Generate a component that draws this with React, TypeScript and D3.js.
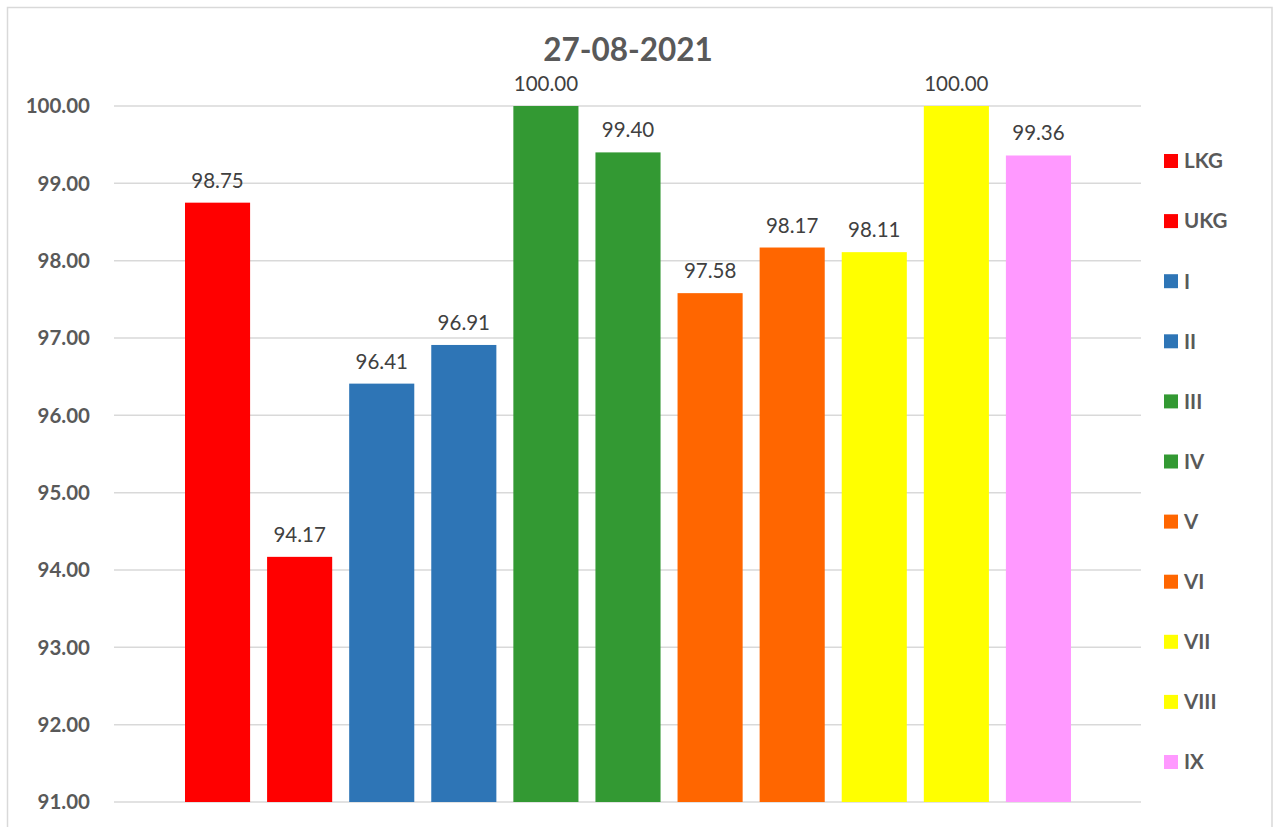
import React from "react";
import * as d3 from "d3";

const categories = ["LKG", "UKG", "I", "II", "III", "IV", "V", "VI", "VII", "VIII", "IX"];
const values = [98.75, 94.17, 96.41, 96.91, 100.0, 99.4, 97.58, 98.17, 98.11, 100.0, 99.36];
const colors = ["#FF0000", "#FF0000", "#2E75B6", "#2E75B6", "#339933", "#339933", "#FF6600", "#FF6600", "#FFFF00", "#FFFF00", "#FF99FF"];
const yTicks = [91, 92, 93, 94, 95, 96, 97, 98, 99, 100];
const title = "27-08-2021";

const W = 1273;
const H = 827;
const FONT = "Lato, 'Open Sans', sans-serif";

export default function App() {
  const gridX0 = 114;
  const gridX1 = 1141;
  const y = d3.scaleLinear().domain([91, 100]).range([802, 106]);
  const x = d3.scaleBand<string>().domain(categories).range([176.5, 1079.5]).paddingInner(0.207).paddingOuter(0.1035);

  return (
    <svg width={W} height={H} style={{ position: "absolute", left: 0, top: 0, background: "#fff" }}>
      <rect x={7.5} y={7.5} width={1264.5} height={830} fill="#fff" stroke="#D9D9D9" strokeWidth={1.5} />
      <text x={628} y={61} textAnchor="middle" fontFamily={FONT} fontWeight="bold" fontSize={31.5} fill="#595959">
        {title}
      </text>
      {yTicks.map((t) => (
        <g key={t}>
          <line x1={gridX0} x2={gridX1} y1={y(t)} y2={y(t)} stroke="#D9D9D9" strokeWidth={1.5} />
          <text x={90} y={y(t)} dy="0.36em" textAnchor="end" fontFamily={FONT} fontWeight="bold" fontSize={20.5} fill="#595959">
            {t.toFixed(2)}
          </text>
        </g>
      ))}
      {categories.map((c, i) => (
        <g key={c}>
          <rect x={x(c)} y={y(values[i])} width={x.bandwidth()} height={y(91) - y(values[i])} fill={colors[i]} />
          <text
            x={(x(c) as number) + x.bandwidth() / 2}
            y={y(values[i]) - 15}
            textAnchor="middle"
            fontFamily={FONT}
            fontSize={20.5}
            fill="#404040"
          >
            {values[i].toFixed(2)}
          </text>
        </g>
      ))}
      {categories.map((c, i) => {
        const ly = 161 + i * 60.1;
        return (
          <g key={"lg" + c}>
            <rect x={1164} y={ly - 7} width={14} height={14} fill={colors[i]} />
            <text x={1184} y={ly} dy="0.36em" fontFamily={FONT} fontWeight="bold" fontSize={20.5} fill="#595959">
              {c}
            </text>
          </g>
        );
      })}
    </svg>
  );
}
